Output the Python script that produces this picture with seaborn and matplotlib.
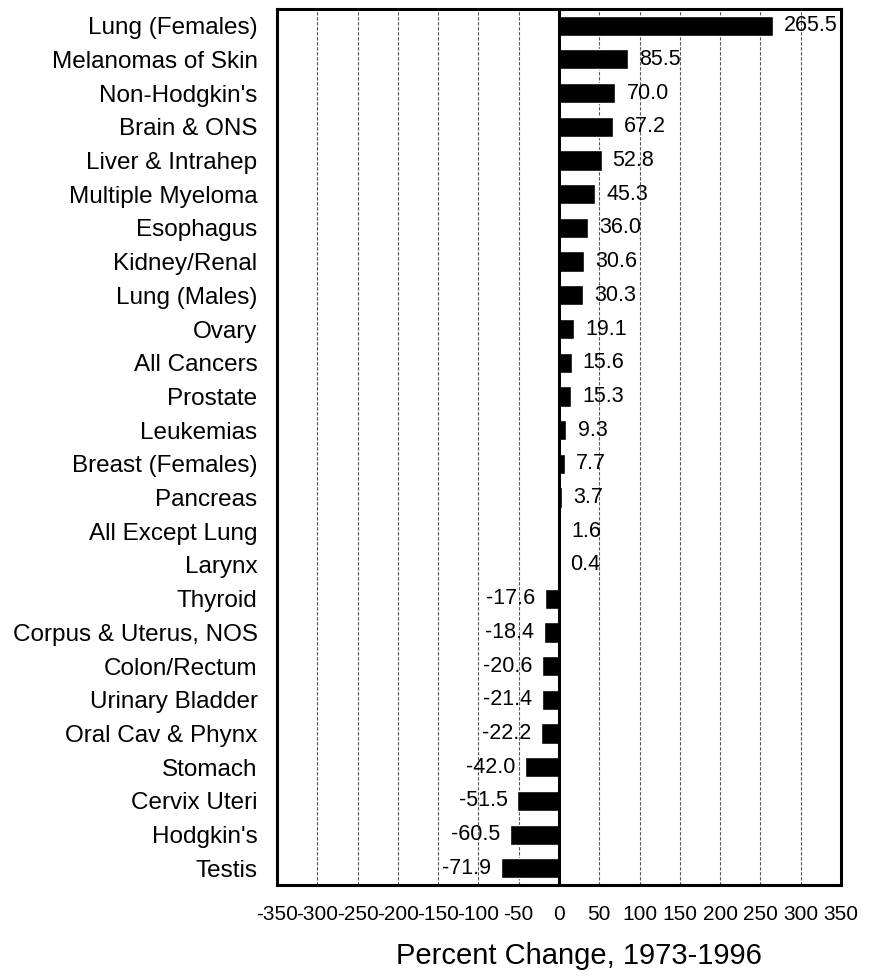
import matplotlib
matplotlib.use("Agg")
import matplotlib.pyplot as plt
import seaborn as sns
import pandas as pd

categories = ["Lung (Females)", "Melanomas of Skin", "Non-Hodgkin's", "Brain & ONS",
              "Liver & Intrahep", "Multiple Myeloma", "Esophagus", "Kidney/Renal",
              "Lung (Males)", "Ovary", "All Cancers", "Prostate", "Leukemias",
              "Breast (Females)", "Pancreas", "All Except Lung", "Larynx", "Thyroid",
              "Corpus & Uterus, NOS", "Colon/Rectum", "Urinary Bladder",
              "Oral Cav & Phynx", "Stomach", "Cervix Uteri", "Hodgkin's", "Testis"]
values = [265.5, 85.5, 70.0, 67.2, 52.8, 45.3, 36.0, 30.6, 30.3, 19.1, 15.6, 15.3,
          9.3, 7.7, 3.7, 1.6, 0.4, -17.6, -18.4, -20.6, -21.4, -22.2, -42.0, -51.5,
          -60.5, -71.9]
xticks = list(range(-350, 351, 50))
xlabel = "Percent Change, 1973-1996"

sns.set_theme(style="white")
plt.rcParams['font.family'] = ['Liberation Sans', 'DejaVu Sans']
plt.rcParams['text.color'] = 'black'
plt.rcParams['axes.labelcolor'] = 'black'
plt.rcParams['xtick.color'] = 'black'
plt.rcParams['ytick.color'] = 'black'

df = pd.DataFrame({"cat": categories, "val": values})
fig = plt.figure(figsize=(8.73, 9.76), dpi=100)
ax = fig.add_axes([0.3173, 0.093, 0.646, 0.898])
sns.barplot(data=df, x="val", y="cat", orient="h", color="black", width=0.6,
            saturation=1, ax=ax)
ax.set_xlim(-350, 350)
ax.set_ylim(len(categories) - 0.5, -0.5)
for x in xticks:
    if x in (-350, 350):
        continue
    if x == 0:
        ax.axvline(0, color="black", lw=2.2, zorder=3)
    else:
        ax.axvline(x, color="#555555", lw=0.8, ls=(0, (3, 1.5)), zorder=0)
ax.set_xticks(xticks)
ax.set_xticklabels([str(x) for x in xticks], fontsize=15)
ax.tick_params(axis="x", length=0, pad=14)
ax.tick_params(axis="y", direction="in", length=10, width=0.8, color="#666666",
               labelsize=17.5, pad=14)
for s in ax.spines.values():
    s.set_visible(True)
    s.set_color("black")
    s.set_linewidth(2.2)
for i, v in enumerate(values):
    if v >= 0:
        ax.annotate(f"{v:.1f}", (v, i), xytext=(8, 0), textcoords="offset points",
                    ha="left", va="center", fontsize=15.5)
    else:
        ax.annotate(f"{v:.1f}", (v, i), xytext=(-7, 0), textcoords="offset points",
                    ha="right", va="center", fontsize=15.5)
ax.set_ylabel("")
ax.set_xlabel(xlabel, fontsize=21)
ax.xaxis.set_label_coords(0.535, -0.065)
fig.savefig("out.png", dpi=100)
